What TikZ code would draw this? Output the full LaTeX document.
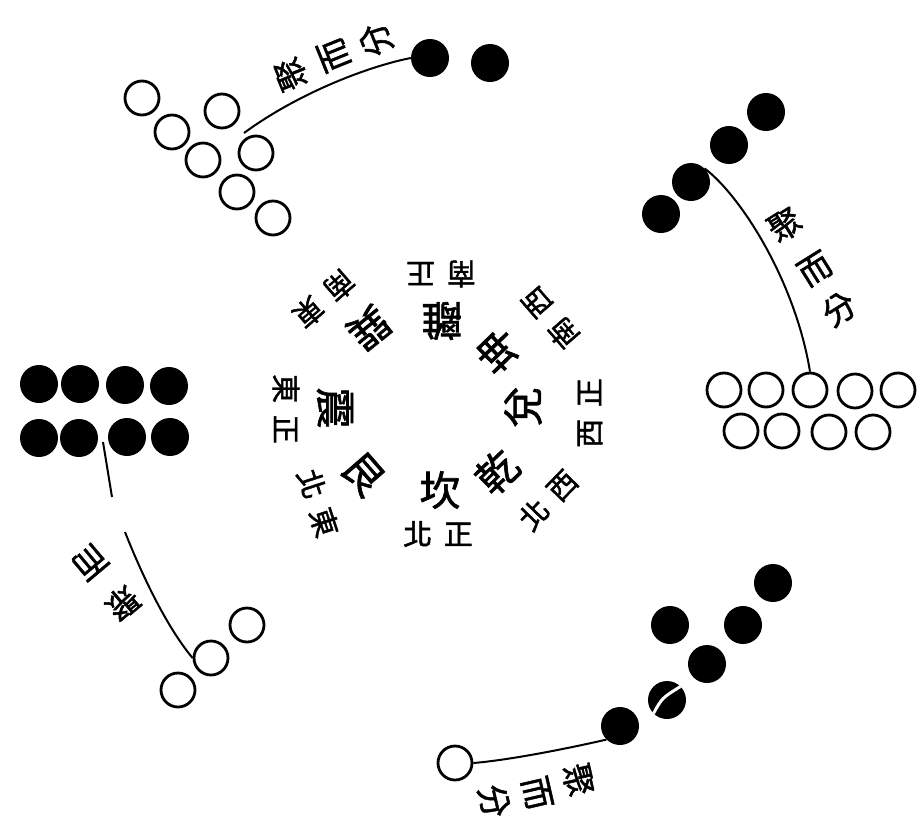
\documentclass[tikz,border=0pt]{standalone}
\usepackage{fontspec}
\newfontfamily\cjk[FakeBold=1.5]{Noto Sans CJK TC}
\newcommand{\gap}{\hspace{0.4em}}

\begin{document}
\begin{tikzpicture}[x=1pt, y=-1pt,
  yin/.style={circle, fill=black, inner sep=0pt, minimum size=38pt},
  yang/.style={circle, draw, line width=2.8pt, inner sep=0pt, minimum size=34pt},
  gua/.style={font=\cjk\fontsize{41}{41}\selectfont, inner sep=0pt},
  fang/.style={font=\cjk\fontsize{29}{29}\selectfont, inner sep=0pt},
  ju/.style={font=\cjk\fontsize{33}{33}\selectfont, inner sep=0pt},
  lian/.style={line width=2pt}]
  \useasboundingbox (0,0) rectangle (919,825);

  % upper left: seven and two
  \node[yang] (tlw1) at (142,98) {};
  \node[yang] (tlw2) at (172,132) {};
  \node[yang] (tlw3) at (222,111) {};
  \node[yang] (tlw4) at (203,160) {};
  \node[yang] (tlw5) at (256,153) {};
  \node[yang] (tlw6) at (237,192) {};
  \node[yang] (tlw7) at (273,218) {};
  \node[yin] (tlb1) at (430,58) {};
  \node[yin] (tlb2) at (490,63) {};
  \coordinate (tlend) at (244,133);
  \draw[lian] (tlb1.west) .. controls (370,66) and (300,92) .. (tlend);
  \node[ju, rotate=112] (tlj1) at (291,74) {聚};
  \node[ju, rotate=112] (tlj2) at (334,55) {而};
  \node[ju, rotate=112] (tlj3) at (376,40) {分};

  % right: four and nine
  \node[yin] (rb1) at (661,214) {};
  \node[yin] (rb2) at (691,182) {};
  \node[yin] (rb3) at (729,145) {};
  \node[yin] (rb4) at (766,112) {};
  \node[yang] (rw1) at (724,390) {};
  \node[yang] (rw2) at (766,390) {};
  \node[yang] (rw3) at (810,390) {};
  \node[yang] (rw4) at (855,391) {};
  \node[yang] (rw5) at (898,390) {};
  \node[yang] (rw6) at (741,431) {};
  \node[yang] (rw7) at (782,431) {};
  \node[yang] (rw8) at (829,432) {};
  \node[yang] (rw9) at (873,432) {};
  \draw[lian] (rb2.north east) .. controls (740,195) and (795,280) .. (rw3.north);
  \node[ju, rotate=32] (rj1) at (785,225) {聚};
  \node[ju, rotate=32] (rj2) at (815,269) {而};
  \node[ju, rotate=32] (rj3) at (839,309) {分};

  % left: eight and three
  \node[yin] (lb1) at (39,384) {};
  \node[yin] (lb2) at (80,384) {};
  \node[yin] (lb3) at (125,385) {};
  \node[yin] (lb4) at (169,386) {};
  \node[yin] (lb5) at (39,438) {};
  \node[yin] (lb6) at (79,438) {};
  \node[yin] (lb7) at (127,437) {};
  \node[yin] (lb8) at (170,437) {};
  \node[yang] (lw1) at (247,625) {};
  \node[yang] (lw2) at (211,658) {};
  \node[yang] (lw3) at (178,690) {};
  \coordinate (lcut1) at (112,497);
  \coordinate (lcut2) at (125,532);
  \draw[lian] (103,442) -- (lcut1);
  \draw[lian] (lcut2) .. controls (140,570) and (165,625) .. (lw2.west);
  \node[ju, rotate=220] (lj1) at (122,603) {聚};
  \node[ju, rotate=220] (lj2) at (90,562) {而};

  % lower right: six and one
  \node[yin] (brb1) at (773,583) {};
  \node[yin] (brb2) at (670,625) {};
  \node[yin] (brb3) at (743,625) {};
  \node[yin] (brb4) at (707,664) {};
  \node[yin] (brb5) at (667,700) {};
  \node[yin] (brb6) at (620,726) {};
  \node[yang] (brw1) at (455,763) {};
  \draw[white, line width=3pt] (brb5.north east) .. controls (662,698) .. (brb5.south west);
  \draw[lian] (brb6.south west) .. controls (570,748) and (510,760) .. (brw1.east);
  \node[ju, rotate=-77] (brj1) at (578,780) {聚};
  \node[ju, rotate=-77] (brj2) at (537,793) {而};
  \node[ju, rotate=-77] (brj3) at (494,801) {分};

  % eight trigrams
  \node[gua] (kan) at (440,490) {坎};
  \node[gua, rotate=44] (qian) at (497,472) {乾};
  \node[gua, rotate=90] (dui) at (523,407) {兌};
  \node[gua, rotate=134] (kun) at (498,351) {坤};
  \node[gua, rotate=180] (li) at (442,321) {離};
  \node[gua, rotate=219] (xun) at (369,328) {巽};
  \node[gua, rotate=270] (zhen) at (335,408) {震};
  \node[gua, rotate=311] (gen) at (363,474) {艮};

  % directions
  \node[fang] (bei) at (438,534) {北\gap 正};
  \node[fang, rotate=46] (xibei) at (548,500) {北\gap 西};
  \node[fang, rotate=90] (xi) at (590,413) {西\gap 正};
  \node[fang, rotate=131] (xinan) at (550,318) {南\gap 西};
  \node[fang, rotate=180] (nan) at (441,274) {南\gap 正};
  \node[fang, rotate=221] (dongnan) at (324,299) {南\gap 東};
  \node[fang, rotate=270] (dong) at (286,409) {東\gap 正};
  \node[fang, rotate=288] (dongbei) at (318,503) {北\gap 東};
\end{tikzpicture}
\end{document}
